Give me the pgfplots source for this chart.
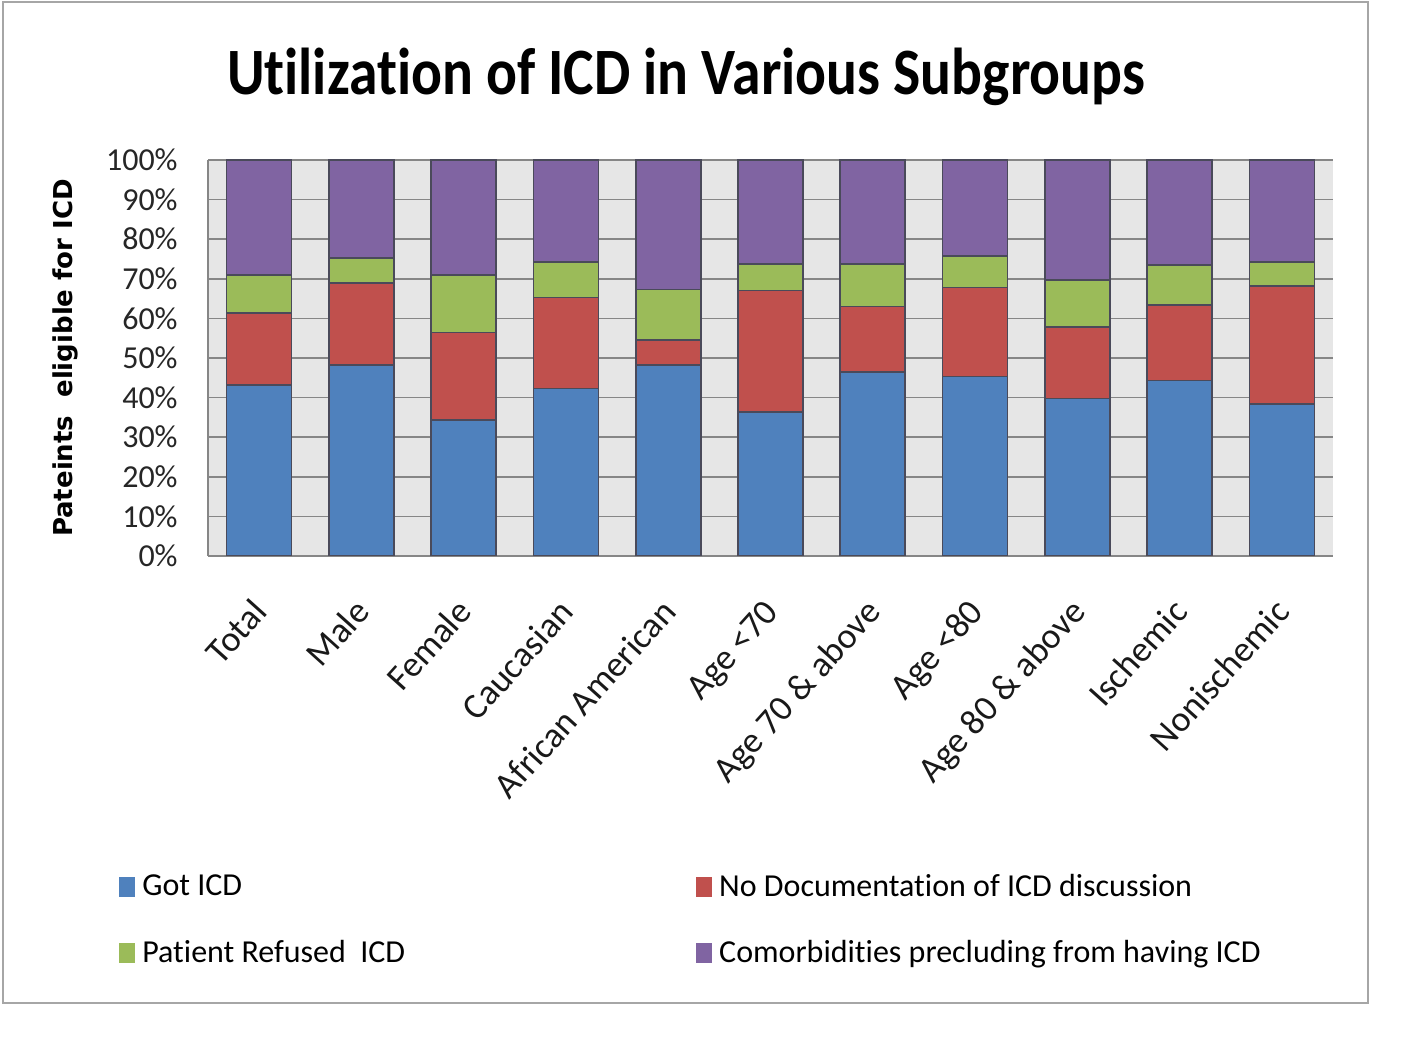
\documentclass[border=0pt]{standalone}
\usepackage{fontspec}
\setmainfont{Carlito}[RawFeature={-liga;-clig;-calt;-dlig}]
\newfontfamily\labfont{DejaVu Sans}
\usepackage{pgfplots}
\usepackage{pgfplotstable}
\pgfplotsset{compat=1.18}
\definecolor{cblue}{HTML}{4F81BD}
\definecolor{cred}{HTML}{C0504D}
\definecolor{cgreen}{HTML}{9BBB59}
\definecolor{cpurple}{HTML}{8064A2}
\definecolor{bggray}{HTML}{E6E6E6}
\definecolor{gridgray}{HTML}{868686}
\definecolor{edgecol}{HTML}{4A4A5A}

\pgfplotstableread{
idx got nodoc refused comorb
0  43.2 18.1  9.7 29.0
1  48.2 20.8  6.2 24.8
2  34.3 22.1 14.6 29.0
3  42.3 23.0  8.9 25.8
4  48.2  6.3 12.8 32.7
5  36.4 30.6  6.7 26.3
6  46.4 16.6 10.7 26.3
7  45.3 22.5  8.0 24.2
8  39.8 18.1 11.8 30.3
9  44.3 19.1 10.1 26.5
10 38.4 29.8  6.1 25.7
}\datatable

\begin{document}
\begin{tikzpicture}
\path[use as bounding box] (0,0) rectangle (708.5pt,531.5pt);
\fill[white] (0,0) rectangle (708.5pt,531.5pt);
\draw[gray!70, line width=1pt] (1.5pt,30pt) rectangle (684pt,530.5pt);
\node[anchor=base, yscale=1.15, font=\fontsize{28.8}{34}\selectfont\bfseries] at (343pt,484pt) {Utilization of ICD in Various Subgroups};
\begin{axis}[
  at={(104pt,253.5pt)}, anchor=south west,
  width=562.5pt, height=198pt, scale only axis,
  ybar stacked, bar width=32.5pt,
  xmin=-0.5, xmax=10.5, ymin=0, ymax=100,
  xtick={0,...,10},
  xticklabels={Total, Male, Female, Caucasian, African American, Age <70, Age 70 \& above, Age <80, Age 80 \& above, Ischemic, Nonischemic},
  ytick={0,10,...,100},
  yticklabels={0\%,10\%,20\%,30\%,40\%,50\%,60\%,70\%,80\%,90\%,100\%},
  major tick length=0pt,
  ymajorgrids,
  grid style={draw=gridgray, line width=0.8pt},
  axis background/.style={fill=bggray},
  axis lines*=left,
  axis line style={-, draw=gridgray, line width=0.8pt},
  yticklabel style={font=\fontsize{16}{19}\selectfont, text=black!85, inner sep=0pt, anchor=east, xshift=-15pt},
  xticklabel style={font=\fontsize{18}{21}\selectfont, text=black!90, inner sep=0pt, text height=12pt, text depth=4pt, anchor=east, xshift=2pt, yshift=-26pt, rotate=48},
  ylabel={Pateints\ \ eligible for ICD},
  every axis y label/.style={at={(axis description cs:-0.127,0.5)}, rotate=90, anchor=center, font=\labfont\bfseries\fontsize{13}{15}\selectfont},
  every axis plot/.append style={draw=edgecol, line width=0.8pt},
  legend style={at={(axis description cs:-0.0792,-0.795)}, anchor=north west, draw=none, fill=none, legend columns=2, font=\fontsize{16}{19}\selectfont, inner sep=0pt, row sep=17.5pt, nodes={inner sep=1.5pt}, /tikz/every even column/.append style={column sep=144pt}, /tikz/every odd column/.append style={column sep=2pt}},
  legend cell align=left,
  legend image code/.code={\fill[#1,draw=none] (0pt,-5pt) rectangle (8pt,5pt);},
]
\addplot[fill=cblue] table[x=idx,y=got] {\datatable};
\addplot[fill=cred] table[x=idx,y=nodoc] {\datatable};
\addplot[fill=cgreen] table[x=idx,y=refused] {\datatable};
\addplot[fill=cpurple] table[x=idx,y=comorb] {\datatable};
\legend{Got ICD, No Documentation of ICD discussion, Patient Refused\ \ ICD, Comorbidities precluding from having ICD}
\end{axis}
\end{tikzpicture}
\end{document}
